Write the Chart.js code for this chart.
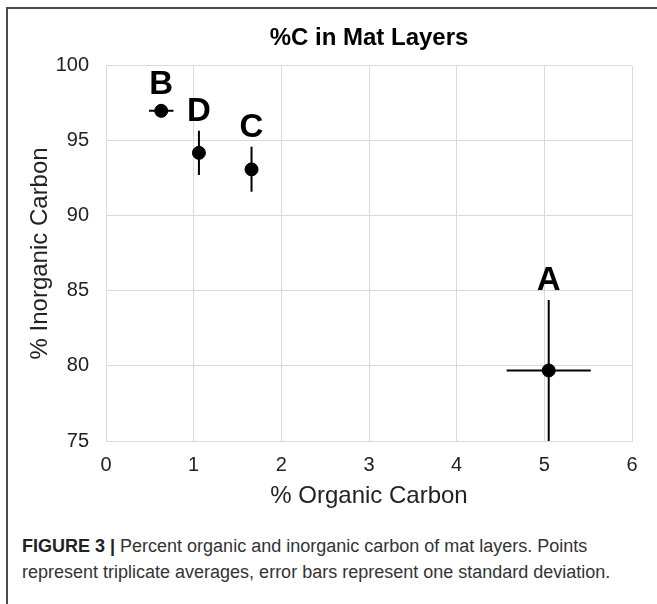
<!DOCTYPE html>
<html>
<head>
<meta charset="utf-8">
<script src="https://cdn.jsdelivr.net/npm/chart.js@4.4.0/dist/chart.umd.min.js"></script>
<style>
  body { margin: 0; background: #fff; width: 657px; height: 604px; overflow: hidden; position: relative; font-family: "Liberation Sans", Arial, sans-serif; }
  .frame { position: absolute; left: 6px; top: 7px; right: -10px; bottom: -10px; border-top: 2px solid #4a4a4a; border-left: 2px solid #4a4a4a; }
  #chart { position: absolute; left: 8px; top: 9px; }
  .caption { position: absolute; left: 22px; top: 533px; width: 634px; font-size: 18px; line-height: 26px; color: #333; }
  .caption b { color: #222; }
</style>
</head>
<body>
<div class="frame"></div>
<canvas id="chart" width="649" height="510"></canvas>
<div class="caption"><b>FIGURE 3 |</b> Percent organic and inorganic carbon of mat layers. Points<br>represent triplicate averages, error bars represent one standard deviation.</div>
<script>
// mat layers, averages and one standard deviation
const layers = ['A', 'B', 'C', 'D'];
const organic = [5.05, 0.63, 1.66, 1.06];
const inorganic = [79.7, 97.0, 93.1, 94.2];
const organicSD = [0.48, 0.14, 0.05, 0.05];
const inorganicSD = [4.7, 0.3, 1.5, 1.47];

const font = "'Liberation Sans', Arial, sans-serif";
const pointRadius = 6.5;

// draws the error bars under the points
const errorBars = {
  id: 'errorBars',
  beforeDatasetsDraw(chart) {
    const { ctx, scales: { x, y } } = chart;
    ctx.save();
    ctx.strokeStyle = '#000';
    ctx.lineWidth = 2;
    organic.forEach((v, i) => {
      const px = x.getPixelForValue(v);
      const py = y.getPixelForValue(inorganic[i]);
      ctx.beginPath();
      ctx.moveTo(x.getPixelForValue(v - organicSD[i]), py);
      ctx.lineTo(x.getPixelForValue(v + organicSD[i]), py);
      ctx.moveTo(px, y.getPixelForValue(inorganic[i] + inorganicSD[i]));
      ctx.lineTo(px, y.getPixelForValue(inorganic[i] - inorganicSD[i]));
      ctx.stroke();
    });
    ctx.restore();
  }
};

// letter above each point
const layerLabels = {
  id: 'layerLabels',
  afterDatasetsDraw(chart) {
    const { ctx, scales: { x, y } } = chart;
    ctx.save();
    ctx.fillStyle = '#000';
    ctx.font = 'bold 33px ' + font;
    ctx.textAlign = 'center';
    ctx.textBaseline = 'alphabetic';
    layers.forEach((name, i) => {
      const px = x.getPixelForValue(organic[i]);
      const top = Math.min(y.getPixelForValue(inorganic[i]) - pointRadius,
                           y.getPixelForValue(inorganic[i] + inorganicSD[i]));
      ctx.fillText(name, px, top - 10);
    });
    ctx.restore();
  }
};

new Chart(document.getElementById('chart'), {
  type: 'scatter',
  data: {
    datasets: [{
      data: layers.map((l, i) => ({ x: organic[i], y: inorganic[i] })),
      backgroundColor: '#000',
      borderColor: '#000',
      pointRadius: pointRadius,
      pointHoverRadius: pointRadius
    }]
  },
  options: {
    responsive: false,
    animation: false,
    events: [],
    layout: { padding: { left: 0, right: 25, top: 0, bottom: 0 } },
    plugins: {
      legend: { display: false },
      tooltip: { enabled: false },
      title: {
        display: true,
        text: '%C in Mat Layers',
        fullSize: false,
        color: '#000',
        font: { family: font, size: 24, weight: 'bold' },
        padding: { top: 15, bottom: 13 }
      }
    },
    scales: {
      x: {
        type: 'linear',
        min: 0,
        max: 6,
        ticks: { stepSize: 1, color: '#222', font: { family: font, size: 20 }, padding: 12 },
        grid: { color: '#d9d9d9', drawTicks: false },
        border: { color: '#d9d9d9' },
        title: { display: true, text: '% Organic Carbon', color: '#222', font: { family: font, size: 24 }, padding: { top: 0, bottom: 8 } },
        afterFit(scale) { scale.height = 78; }
      },
      y: {
        min: 75,
        max: 100,
        ticks: { stepSize: 5, color: '#222', font: { family: font, size: 20 }, padding: 17 },
        grid: { color: '#d9d9d9', drawTicks: false },
        border: { color: '#d9d9d9' },
        title: { display: true, text: '% Inorganic Carbon', color: '#222', font: { family: font, size: 24 }, padding: { top: 18, bottom: 0 } },
        afterFit(scale) { scale.width = 98; }
      }
    }
  },
  plugins: [errorBars, layerLabels]
});
</script>
</body>
</html>
